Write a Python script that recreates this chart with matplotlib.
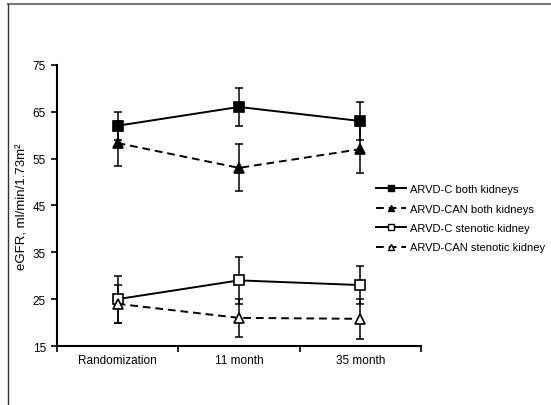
import numpy as np
import matplotlib.pyplot as plt
from matplotlib.lines import Line2D

# data
timepoints = ["Randomization", "11 month", "35 month"]

c_both = [62, 66, 63]
c_both_err = [3, 4, 4]
can_both = [58.3, 53, 57]
can_both_err = [4.8, 5, 5]
c_sten = [25, 29, 28]
c_sten_err = [5, 5, 4]
can_sten = [24, 21, 20.8]
can_sten_err = [4, 4, 4.2]

labels = ["ARVD-C both kidneys", "ARVD-CAN both kidneys",
          "ARVD-C stenotic kidney", "ARVD-CAN stenotic kidney"]

plt.rcParams['font.family'] = ['Liberation Sans', 'DejaVu Sans']

fig = plt.figure(figsize=(5.51, 4.06), dpi=100)
ax = fig.add_axes([0.1034, 0.1453, 0.6606, 0.6927])

x = np.arange(len(timepoints)) + 0.5

series = [
    (c_both, c_both_err, 's', 'black', '-'),
    (can_both, can_both_err, '^', 'black', (0, (4, 2.5))),
    (c_sten, c_sten_err, 's', 'white', '-'),
    (can_sten, can_sten_err, '^', 'white', (0, (4, 2.5))),
]
handles = []
for (vals, err, mk, fc, ls), lab in zip(series, labels):
    ax.errorbar(x, vals, yerr=err, fmt='none', ecolor='black', elinewidth=1.1,
                capsize=3, capthick=1.1, zorder=2)
    ax.plot(x, vals, linestyle=ls, color='black', linewidth=1.4, marker=mk,
            markersize=7 if mk == 's' else 6.5, markerfacecolor=fc,
            markeredgecolor='black', markeredgewidth=1.2, zorder=3)
    handles.append(Line2D([], [], linestyle=ls, color='black', linewidth=1.4,
                          marker=mk, markersize=5, markerfacecolor=fc,
                          markeredgecolor='black', markeredgewidth=1.0))

ax.set_xlim(0, 3)
ax.set_ylim(15, 75)
ax.set_yticks([15, 25, 35, 45, 55, 65, 75])
ax.set_xticks([0, 1, 2, 3])
ax.set_xticklabels([])
ax.set_xticks(x, minor=True)
ax.set_xticklabels(timepoints, minor=True, fontsize=8.5)
ax.tick_params(axis='x', which='minor', length=0, pad=6)
ax.tick_params(axis='x', which='major', length=4, width=1.2, direction='out')
ax.tick_params(axis='y', length=4, width=1.2, direction='out', labelsize=8.5, pad=4)

for s in ['top', 'right']:
    ax.spines[s].set_visible(False)
for s in ['left', 'bottom']:
    ax.spines[s].set_linewidth(1.5)

ax.set_ylabel("eGFR, ml/min/1.73m²", fontsize=9.5, labelpad=3)

fig.legend(handles, labels, loc='upper left', bbox_to_anchor=(0.675, 0.555),
           frameon=False, fontsize=8, handlelength=2.7, handletextpad=0.3,
           labelspacing=0.85, borderaxespad=0)

# frame lines at top and left of the picture
fig.add_artist(Line2D([0.0145, 1.0], [0.988, 0.988], transform=fig.transFigure,
                      color='#777777', linewidth=1.5))
fig.add_artist(Line2D([0.0145, 0.0145], [0.0, 0.988], transform=fig.transFigure,
                      color='#333333', linewidth=1.0))

fig.savefig("out.png", dpi=100)
